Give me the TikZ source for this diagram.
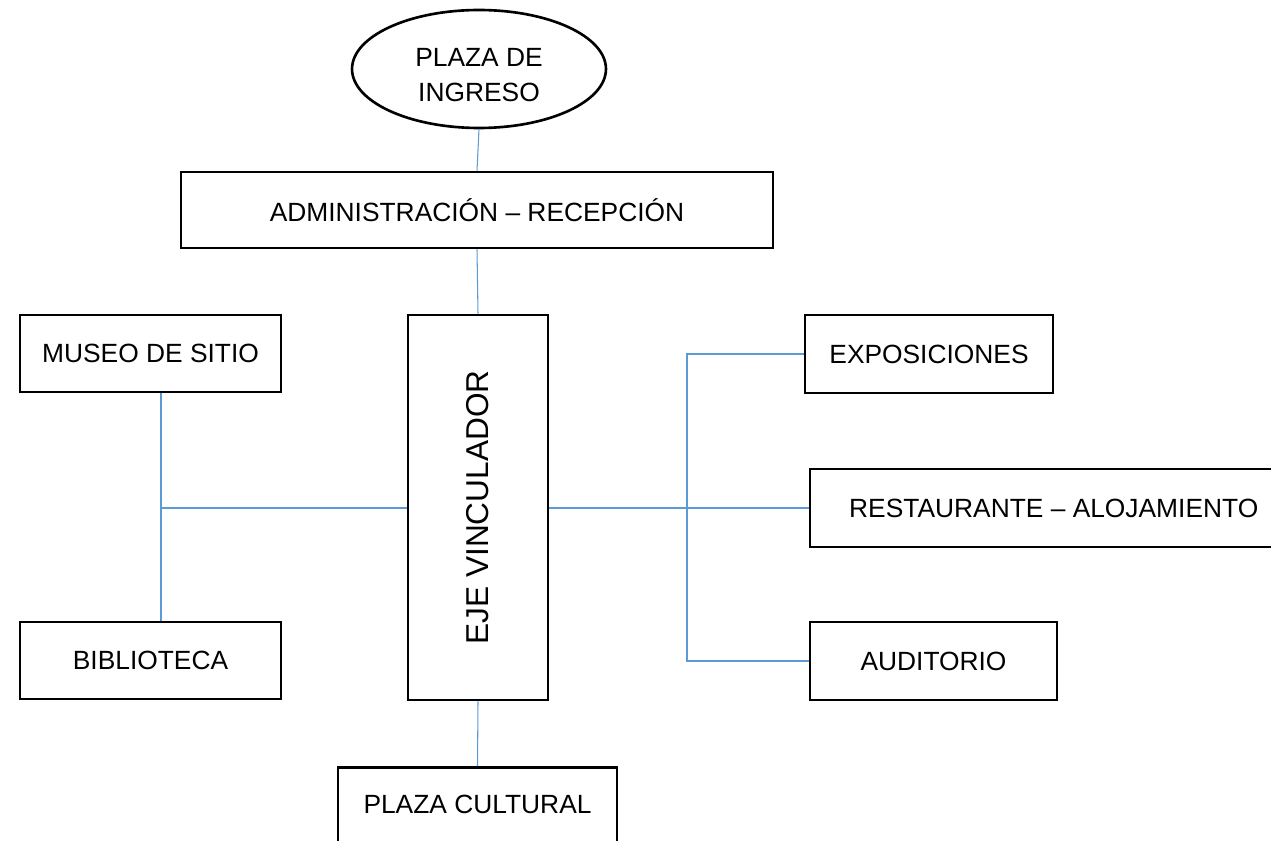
\documentclass[tikz,border=0pt]{standalone}
\usepackage{fontspec}
\setmainfont{Liberation Sans}
\usetikzlibrary{shapes.geometric}
\definecolor{linkblue}{RGB}{91,155,213}
\begin{document}
\begin{tikzpicture}[x=0.02cm,y=-0.02cm,font=\fontsize{15}{20}\selectfont,
 caja/.style={draw,line width=1.5pt,inner sep=0pt},
 enlace/.style={draw=linkblue,line width=0.6pt}]
\useasboundingbox (0,0) rectangle (1271,841);
\clip (0,0) rectangle (1271,841);
\node[caja,ellipse,minimum width=5.08cm,minimum height=2.36cm] (ingreso) at (479,69) {};
\node[align=center] (ingresotxt) at (479,75) {PLAZA DE\\INGRESO};
\node[caja,minimum width=11.84cm,minimum height=1.52cm] (admin) at (477,210) {ADMINISTRACIÓN – RECEPCIÓN};
\node[caja,minimum width=2.8cm,minimum height=7.7cm] (eje) at (478,507.5) {};
\node[rotate=90,font=\fontsize{18}{20}\selectfont] (ejetxt) at (eje.center) {EJE VINCULADOR};
\node[caja,minimum width=5.22cm,minimum height=1.54cm] (museo) at (150.5,353.5) {MUSEO DE SITIO};
\node[caja,minimum width=5.22cm,minimum height=1.54cm] (biblio) at (150.5,660.5) {BIBLIOTECA};
\node[caja,minimum width=4.96cm,minimum height=1.56cm] (expo) at (929,354) {EXPOSICIONES};
\node[caja,minimum width=9.6cm,minimum height=1.56cm] (resta) at (1050,508) {};
\node[anchor=west] (restatxt) at (843,508) {RESTAURANTE – ALOJAMIENTO};
\node[caja,minimum width=4.94cm,minimum height=1.56cm] (audit) at (933.5,661) {AUDITORIO};
\node[caja,minimum width=5.58cm,minimum height=1.56cm,anchor=north] (cultural) at (477.5,766) {};
\node (culturaltxt) at (477.5,804) {PLAZA CULTURAL};
\coordinate (lj) at (161,508);
\coordinate (rj) at (687,508);
\draw[enlace] (ingreso.south) -- (admin.north);
\draw[enlace] (admin.south) -- (eje.north);
\draw[enlace] (eje.south) -- (cultural.north);
\draw[enlace] (museo.south -| lj) -- (biblio.north -| lj);
\draw[enlace] (lj) -- (eje.west |- lj);
\draw[enlace] (eje.east |- rj) -- (resta.west |- rj);
\draw[enlace] (expo.west) -- (expo.west -| rj) -- (audit.west -| rj) -- (audit.west);
\end{tikzpicture}
\end{document}
